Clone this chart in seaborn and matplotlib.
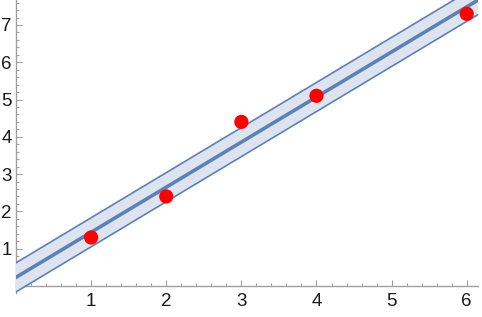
import numpy as np
import pandas as pd
import matplotlib
matplotlib.use("Agg")
import matplotlib.pyplot as plt
from matplotlib.ticker import MultipleLocator, FixedLocator
import seaborn as sns

# data
x_vals = [1, 2, 3, 4, 6]
y_vals = [1.3, 2.4, 4.4, 5.1, 7.3]
band_half_width = 0.39
x_ticks = [1, 2, 3, 4, 5, 6]
y_ticks = [1, 2, 3, 4, 5, 6, 7]

sns.set_theme(style="white")
plt.rcParams['font.family'] = ['Liberation Sans', 'DejaVu Sans']

line_color = "#5e81b5"
fill_color = "#dde4f0"
axis_color = "#a0a0a0"

fig = plt.figure(figsize=(4.82, 3.17), dpi=100)
ax = fig.add_axes([16/482, 24/317, (478-16)/482, 293/317])

xmin, xmax = 0.0, 6.15
ymin, ymax = -0.19, 7.67

slope, intercept = np.polyfit(x_vals, y_vals, 1)
xs = np.array([xmin - 0.5, xmax + 0.5])
fit = slope * xs + intercept
line_df = pd.DataFrame({"x": xs, "fit": fit,
                        "lo": fit - band_half_width, "hi": fit + band_half_width})

ax.fill_between(line_df["x"], line_df["lo"], line_df["hi"], color=fill_color, lw=0, zorder=1)
sns.lineplot(data=line_df, x="x", y="lo", ax=ax, color=line_color, lw=1.2, zorder=2)
sns.lineplot(data=line_df, x="x", y="hi", ax=ax, color=line_color, lw=1.2, zorder=2)
sns.lineplot(data=line_df, x="x", y="fit", ax=ax, color=line_color, lw=2.6, zorder=3)

pts = pd.DataFrame({"x": x_vals, "y": y_vals})
sns.scatterplot(data=pts, x="x", y="y", ax=ax, color="#ff0000", s=105,
                edgecolor="none", zorder=4)

ax.set_xlim(xmin, xmax)
ax.set_ylim(ymin, ymax)
ax.set_xlabel("")
ax.set_ylabel("")
ax.patch.set_alpha(0)

for s in ["top", "right"]:
    ax.spines[s].set_visible(False)
ax.spines["left"].set_position(("data", 0))
ax.spines["bottom"].set_position(("data", 0))
for s in ["left", "bottom"]:
    ax.spines[s].set_color(axis_color)
    ax.spines[s].set_linewidth(1.0)
    ax.spines[s].set_zorder(0.5)

ax.xaxis.set_major_locator(FixedLocator(x_ticks))
ax.yaxis.set_major_locator(FixedLocator(y_ticks))
ax.xaxis.set_minor_locator(MultipleLocator(0.2))
ax.yaxis.set_minor_locator(MultipleLocator(0.2))
ax.tick_params(which="both", direction="in", color=axis_color, width=0.8,
               bottom=True, left=True, labelsize=13.5, labelcolor="#1a1a1a")
ax.tick_params(which="major", length=4)
ax.tick_params(which="minor", length=2)
ax.tick_params(axis="x", which="major", pad=5)
ax.tick_params(axis="y", which="major", pad=3)

fig.savefig("out.png", dpi=100)
